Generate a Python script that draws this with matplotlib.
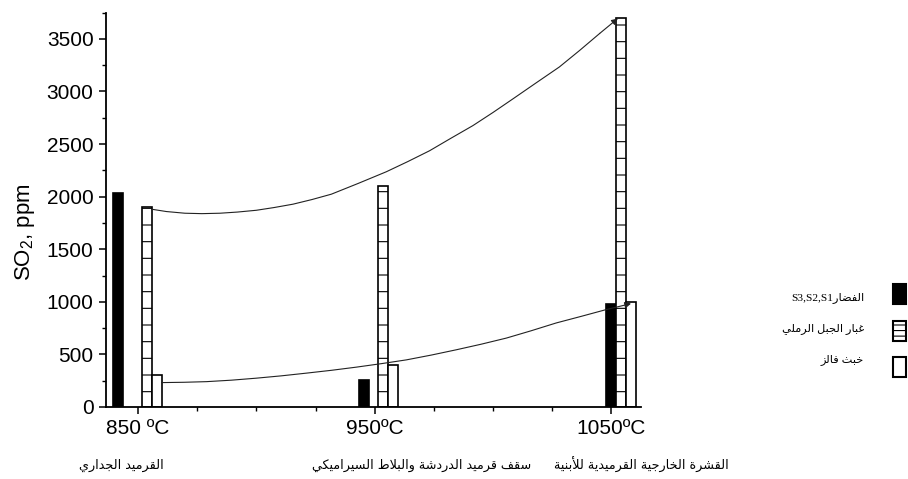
import matplotlib
matplotlib.use("Agg")
import matplotlib.pyplot as plt
from matplotlib.patches import Rectangle

# data
temps = [850, 950, 1050]
temp_labels = ["850 ºC", "950ºC", "1050ºC"]
materials = ["القرميد الجداري",
             "سقف قرميد الدردشة والبلاط السيراميكي",
             "القشرة الخارجية القرميدية للأبنية"]
clay = [2030, 260, 980]
sand_dust = [1900, 2100, 3700]
slag = [300, 400, 1000]
legend_ar = ["الفضار", "غبار الجبل الرملي", "خبث فالز"]

# trend curves
upper_x = [855.8, 862.0, 869.8, 877.0, 884.6, 892.0, 900.0, 907.5, 915.5, 923.5, 931.7,
           943.0, 954.9, 964.0, 973.2, 982.0, 991.5, 1000.0, 1008.4, 1018.0, 1028.0,
           1036.5, 1045.0, 1052.7]
upper_y = [1880, 1858, 1842, 1838, 1842, 1853, 1870, 1896, 1928, 1972, 2023,
           2125, 2236, 2333, 2436, 2552, 2675, 2800, 2929, 3078, 3232,
           3388, 3550, 3693]
lower_x = [860.0, 869.5, 879.0, 889.5, 900.0, 910.5, 921.2, 931.8, 942.3, 952.8,
           963.4, 974.0, 984.5, 995.0, 1005.6, 1016.0, 1026.7, 1037.3, 1047.8, 1058.3]
lower_y = [232, 235, 241, 255, 274, 296, 322, 349, 379, 412,
           448, 494, 544, 597, 655, 724, 799, 862, 926, 983]

# bar offsets from the group temperature (the groups are not evenly laid out)
clay_off = [-8.6, -4.5, -0.1]
dust_off = [3.7, 3.5, 4.1]
slag_off = [7.9, 7.7, 8.2]
bar_w = 4.2


# matplotlib has no arabic shaping, so pick presentation forms by hand
DUAL = {'ب': 0xFE8F, 'ث': 0xFE99, 'ج': 0xFE9D, 'خ': 0xFEA5, 'س': 0xFEB1,
        'ش': 0xFEB5, 'ض': 0xFEBD, 'ط': 0xFEC1, 'غ': 0xFECD, 'ف': 0xFED1,
        'ق': 0xFED5, 'ك': 0xFED9, 'ل': 0xFEDD, 'م': 0xFEE1, 'ن': 0xFEE5,
        'ه': 0xFEE9, 'ي': 0xFEF1}
RIGHT = {'ا': 0xFE8D, 'أ': 0xFE83, 'ة': 0xFE93, 'د': 0xFEA9, 'ر': 0xFEAD,
         'ز': 0xFEAF, 'و': 0xFEED}
LAM_ALEF = {'ا': 0xFEFB, 'أ': 0xFEF7}


def shape(text):
    out = []
    i = 0
    while i < len(text):
        c = text[i]
        if c not in DUAL and c not in RIGHT:
            out.append(c)
            i += 1
            continue
        joins_prev = i > 0 and text[i - 1] in DUAL
        nxt = text[i + 1] if i + 1 < len(text) else ''
        if c == 'ل' and nxt in LAM_ALEF:
            out.append(chr(LAM_ALEF[nxt] + (1 if joins_prev else 0)))
            i += 2
            continue
        if c in RIGHT:
            out.append(chr(RIGHT[c] + (1 if joins_prev else 0)))
        else:
            joins_next = nxt in DUAL or nxt in RIGHT
            idx = {(False, False): 0, (True, False): 1,
                   (False, True): 2, (True, True): 3}[(joins_prev, joins_next)]
            out.append(chr(DUAL[c] + idx))
        i += 1
    return ''.join(reversed(out))


plt.rcParams['font.family'] = ['Liberation Sans', 'DejaVu Sans']
plt.rcParams['mathtext.fontset'] = 'custom'
plt.rcParams['mathtext.rm'] = 'Liberation Sans'
plt.rcParams['mathtext.it'] = 'Liberation Sans'
plt.rcParams['hatch.linewidth'] = 0.8

W, H = 908, 479
fig = plt.figure(figsize=(W / 100, H / 100), dpi=100)
ax = fig.add_axes([106 / W, 1 - 407 / H, 535 / W, (407 - 12.5) / H])

ax.bar([t + o for t, o in zip(temps, clay_off)], clay, width=bar_w,
       color='black', edgecolor='black', linewidth=1.2, zorder=2)
ax.bar([t + o for t, o in zip(temps, dust_off)], sand_dust, width=bar_w,
       color='white', edgecolor='black', linewidth=1.2, hatch='-', zorder=2)
ax.bar([t + o for t, o in zip(temps, slag_off)], slag, width=bar_w,
       color='white', edgecolor='black', linewidth=1.2, zorder=2)

for xs, ys in [(upper_x, upper_y), (lower_x, lower_y)]:
    ax.plot(xs[:-1], ys[:-1], color='#222222', lw=0.8, zorder=3)
    ax.annotate('', xy=(xs[-1], ys[-1]), xytext=(xs[-2], ys[-2]),
                arrowprops=dict(arrowstyle='-|>', color='#222222', lw=0.8,
                                mutation_scale=9, shrinkA=0, shrinkB=0),
                zorder=3)

ax.set_xlim(836.5, 1062.5)
ax.set_ylim(0, 3750)
ax.set_xticks(temps)
ax.set_xticklabels(temp_labels)
ax.set_xticks(range(875, 1050, 25), minor=True)
ax.set_yticks(range(0, 3501, 500))
ax.set_yticks(range(250, 3751, 500), minor=True)
ax.tick_params(which='major', length=5, width=1.1, labelsize=15, pad=4)
ax.tick_params(which='minor', length=3, width=1.0)
for side in ['top', 'right']:
    ax.spines[side].set_visible(False)
for side in ['left', 'bottom']:
    ax.spines[side].set_linewidth(1.3)

fig.text(25 / W, 1 - 232 / H, 'SO$_2$, ppm', rotation=90, fontsize=16,
         ha='center', va='center')

# material names under the temperatures
for name, xc in zip(materials, [121.6, 422, 641]):
    fig.text(xc / W, 1 - 465 / H, shape(name), fontsize=9.2,
             ha='center', va='center', family=['DejaVu Sans'])

# legend, drawn by hand: text on the left, swatch on the right
legend_text = ["S3,S2,S1" + shape(legend_ar[0]), shape(legend_ar[1]), shape(legend_ar[2])]
text_y = [298, 329, 360]
box_y = [294, 331, 367]
styles = [dict(facecolor='black', hatch=None),
          dict(facecolor='white', hatch='---'),
          dict(facecolor='white', hatch=None)]
for txt, ty, by, st in zip(legend_text, text_y, box_y, styles):
    fig.text(864 / W, 1 - ty / H, txt, fontsize=8.2, ha='right', va='center',
             family=['Liberation Serif', 'DejaVu Sans'])
    fig.add_artist(Rectangle((893 / W, 1 - (by + 10) / H), 13 / W, 20 / H,
                             transform=fig.transFigure, edgecolor='black',
                             linewidth=1.5, **st))

fig.savefig('out.png', dpi=100)
